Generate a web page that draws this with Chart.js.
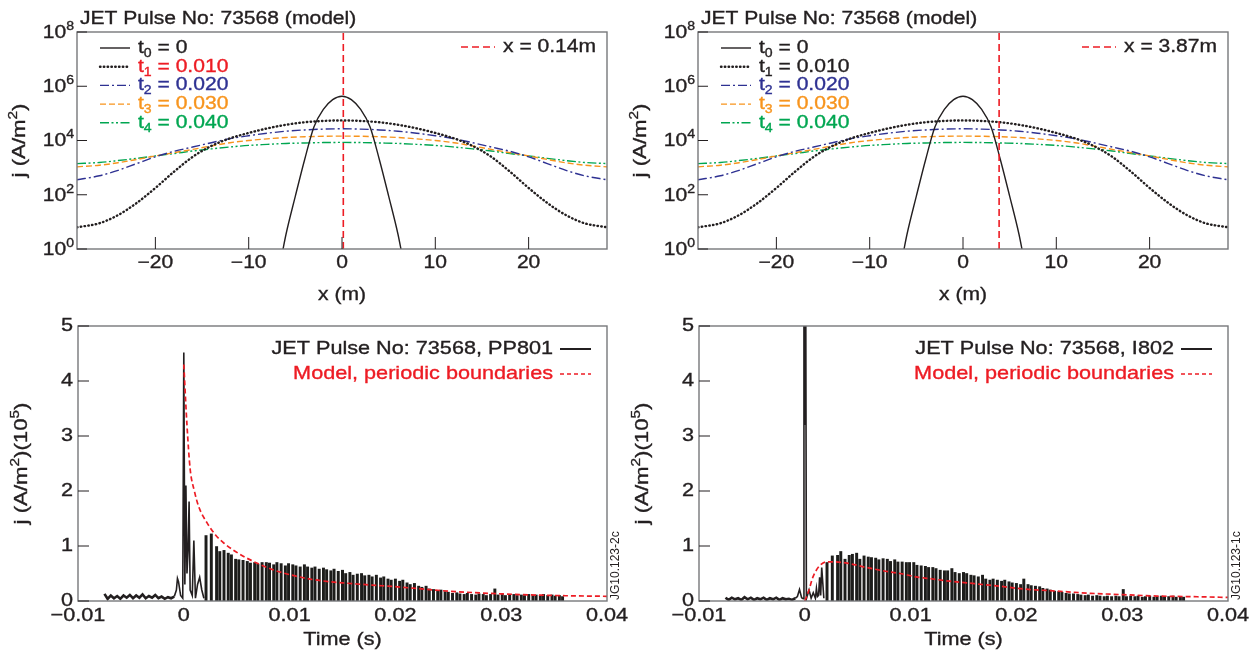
<!DOCTYPE html>
<html>
<head>
<meta charset="utf-8">
<script src="https://cdn.jsdelivr.net/npm/chart.js@4.4.1/dist/chart.umd.min.js"></script>
<style>
html, body { margin: 0; padding: 0; background: #fff; }
#page { position: relative; width: 1260px; height: 660px; overflow: hidden; background: #fff; }
canvas { position: absolute; }
</style>
</head>
<body>
<div id="page">
  <canvas id="profLeft" width="630" height="310" style="left:0;top:0"></canvas>
  <canvas id="profRight" width="639" height="310" style="left:621px;top:0"></canvas>
  <canvas id="probeLeft" width="630" height="360" style="left:0;top:300px"></canvas>
  <canvas id="probeRight" width="639" height="360" style="left:621px;top:300px"></canvas>
</div>
<script>
// ---- top panels: modelled j(x) profiles at successive times ----
const profileX = [-28.4, -26, -24, -22, -20, -18, -16, -14, -12, -10, -8, -6, -4, -2, 0,
                  2, 4, 6, 8, 10, 12, 14, 16, 18, 20, 22, 24, 26, 28.4];
const coreX = [-6.4, -6, -5, -4, -3, -2, -1, 0, 1, 2, 3, 4, 5, 6, 6.4];

const jT0 = [0.71, 3.5, 89, 2.0e3, 3.2e4, 1.4e5, 3.2e5, 4.3e5, 3.2e5, 1.4e5, 3.2e4, 2.0e3, 89, 3.5, 0.71];
const jT1 = [6.3, 8.9, 17.8, 50, 178, 710, 2500, 6300, 1.2e4, 1.9e4, 2.8e4, 3.8e4, 4.7e4, 5.25e4, 5.5e4,
             5.25e4, 4.7e4, 3.8e4, 2.8e4, 1.9e4, 1.2e4, 6300, 2500, 710, 178, 50, 17.8, 8.9, 6.3];
const jT2 = [355, 501, 794, 1410, 2500, 4000, 5750, 8300, 1.17e4, 1.5e4, 1.86e4, 2.2e4, 2.45e4, 2.63e4, 2.7e4,
             2.63e4, 2.45e4, 2.2e4, 1.86e4, 1.5e4, 1.17e4, 8300, 5750, 4000, 2500, 1410, 794, 501, 355];
const jT3 = [1070, 1230, 1510, 2000, 2700, 3550, 4700, 6300, 8300, 1.0e4, 1.15e4, 1.29e4, 1.38e4, 1.43e4, 1.45e4,
             1.43e4, 1.38e4, 1.29e4, 1.15e4, 1.0e4, 8300, 6300, 4700, 3550, 2700, 2000, 1510, 1230, 1070];
const jT4 = [1410, 1550, 1820, 2190, 2700, 3300, 4100, 4900, 5750, 6600, 7200, 7800, 8100, 8400, 8500,
             8400, 8100, 7800, 7200, 6600, 5750, 4900, 4100, 3300, 2700, 2190, 1820, 1550, 1410];

const timeLabels = ['0', '0.010', '0.020', '0.030', '0.040'];
const probeLeftX = 0.14;
const probeRightX = 3.87;
const profileXTicks = [-20, -10, 0, 10, 20];
const logTicks = [1e0, 1e2, 1e4, 1e6, 1e8];

// ---- bottom panels: probe signal during the ELM, in 1e5 A/m^2 ----
const noiseT = [-0.0075, -0.0072, -0.0069, -0.0066, -0.0063, -0.0060, -0.0057, -0.0054, -0.0051, -0.0048, -0.0045, -0.0042,
                -0.0039, -0.0036, -0.0033, -0.0030, -0.0027, -0.0024, -0.0021, -0.0018, -0.0015, -0.0012, -0.0009];
const pp801Noise = [0.13, 0.04, 0.10, 0.05, 0.09, 0.04, 0.10, 0.06, 0.11, 0.05, 0.10, 0.06,
                    0.12, 0.05, 0.09, 0.06, 0.11, 0.05, 0.08, 0.04, 0.07, 0.05, 0.08];
const i802Noise = [0.06, 0.02, 0.06, 0.03, 0.05, 0.02, 0.07, 0.03, 0.06, 0.02, 0.05, 0.03,
                   0.06, 0.02, 0.05, 0.03, 0.06, 0.02, 0.05, 0.03, 0.04, 0.02, 0.05];

const pp801EarlyT = [-0.0009, -0.0007, -0.0006, -0.0005, -0.0003, -0.0001, 0, 0.0001, 0.0002, 0.0003, 0.0004, 0.0005, 0.0006,
                     0.0008, 0.00095, 0.0011, 0.0013, 0.0015, 0.0017, 0.0019];
const pp801Early = [0.08, 0.2, 0.41, 0.35, 0.1, 0.05, 4.52, 0.3, 2.1, 0.5, 0.9, 1.81, 0.2,
                    0.1, 1.1, 0.05, 0.3, 0.43, 0.2, 0.05];
const i802EarlyT = [-0.0009, -0.0007, -0.0005, -0.0003, -0.00015, -0.00008, 0, 0.00008, 0.00015, 0.0004, 0.0006, 0.0008,
                    0.0010, 0.0011, 0.0012, 0.0013, 0.0014, 0.0015, 0.0016, 0.0018];
const i802Early = [0.05, 0.08, 0.21, 0.06, 0.04, 6.5, 3.2, 6.5, 0.04, 0.2, 0.05, 0.15,
                   0.05, 0.23, 0.08, 0.1, 0.43, 0.1, 0.61, 0.05];

// filament (ELM) arrival times and peak heights at each probe
const elmT = [0.0021, 0.0026, 0.0031, 0.0034, 0.0038, 0.0042, 0.0045, 0.0049, 0.0052, 0.0056,
              0.0060, 0.0063, 0.0067, 0.0070, 0.0074, 0.0078, 0.0081, 0.0085, 0.0088, 0.0092,
              0.0096, 0.0099, 0.0103, 0.0106, 0.0110, 0.0114, 0.0117, 0.0121, 0.0124, 0.0128,
              0.0132, 0.0135, 0.0139, 0.0142, 0.0146, 0.0150, 0.0153, 0.0157, 0.0160, 0.0164,
              0.0168, 0.0171, 0.0175, 0.0178, 0.0182, 0.0186, 0.0189, 0.0193, 0.0196, 0.0200,
              0.0204, 0.0207, 0.0211, 0.0214, 0.0218, 0.0222, 0.0225, 0.0229, 0.0232, 0.0236,
              0.0240, 0.0243, 0.0247, 0.0250, 0.0254, 0.0258, 0.0261, 0.0265, 0.0268, 0.0272,
              0.0276, 0.0279, 0.0283, 0.0286, 0.0290, 0.0294, 0.0297, 0.0301, 0.0304, 0.0308,
              0.0312, 0.0315, 0.0319, 0.0322, 0.0326, 0.0330, 0.0333, 0.0337, 0.0340, 0.0344,
              0.0348, 0.0351, 0.0355, 0.0358];
const pp801Peaks = [1.19, 1.22, 0.99, 0.90, 0.92, 0.87, 0.84, 0.76, 0.75, 0.74,
                    0.72, 0.69, 0.70, 0.67, 0.70, 0.70, 0.69, 0.66, 0.70, 0.68,
                    0.64, 0.68, 0.66, 0.64, 0.62, 0.66, 0.62, 0.60, 0.62, 0.58,
                    0.60, 0.57, 0.55, 0.58, 0.54, 0.56, 0.50, 0.52, 0.47, 0.49,
                    0.50, 0.46, 0.47, 0.44, 0.47, 0.42, 0.44, 0.40, 0.38, 0.40,
                    0.36, 0.38, 0.33, 0.30, 0.32, 0.27, 0.25, 0.27, 0.22, 0.21,
                    0.19, 0.20, 0.17, 0.16, 0.14, 0.15, 0.13, 0.12, 0.14, 0.12,
                    0.11, 0.13, 0.12, 0.10, 0.12, 0.22, 0.11, 0.12, 0.10, 0.11,
                    0.12, 0.10, 0.11, 0.10, 0.12, 0.10, 0.11, 0.10, 0.12, 0.10,
                    0.11, 0.09, 0.10, 0.08];
const i802Peaks = [0.70, 0.82, 0.83, 0.90, 0.76, 0.83, 0.85, 0.87, 0.76, 0.82,
                   0.80, 0.79, 0.78, 0.75, 0.77, 0.76, 0.72, 0.75, 0.71, 0.71,
                   0.70, 0.70, 0.70, 0.65, 0.64, 0.63, 0.61, 0.61, 0.59, 0.56,
                   0.55, 0.55, 0.59, 0.52, 0.50, 0.52, 0.50, 0.47, 0.46, 0.44,
                   0.47, 0.40, 0.38, 0.40, 0.38, 0.36, 0.38, 0.35, 0.33, 0.32,
                   0.30, 0.40, 0.30, 0.28, 0.27, 0.26, 0.23, 0.22, 0.20, 0.18,
                   0.17, 0.16, 0.14, 0.13, 0.13, 0.12, 0.11, 0.10, 0.11, 0.09,
                   0.10, 0.09, 0.08, 0.09, 0.08, 0.09, 0.08, 0.21, 0.08, 0.09,
                   0.08, 0.09, 0.07, 0.08, 0.09, 0.07, 0.08, 0.09, 0.07, 0.08,
                   0.09, 0.07, 0.08, 0.07];

// model, periodic boundaries
const pp801ModelT = [0, 0.0003, 0.0006, 0.0010, 0.0014, 0.0022, 0.0030, 0.0038, 0.0053, 0.0070,
                     0.0084, 0.0100, 0.0122, 0.0150, 0.0178, 0.0200, 0.0250, 0.0300, 0.0350, 0.0400];
const pp801Model = [4.3, 3.2, 2.4, 2.0, 1.72, 1.42, 1.2, 1.05, 0.85, 0.68,
                    0.57, 0.48, 0.39, 0.33, 0.29, 0.26, 0.18, 0.13, 0.10, 0.085];
const i802ModelT = [0, 0.0004, 0.0007, 0.0010, 0.0014, 0.0020, 0.0029, 0.0042, 0.0058, 0.0074, 0.0090, 0.0105,
                    0.0121, 0.0137, 0.0153, 0.0168, 0.0184, 0.0206, 0.0238, 0.0270, 0.0301, 0.0333, 0.0364, 0.0400];
const i802Model = [0.0, 0.2, 0.4, 0.53, 0.64, 0.71, 0.71, 0.68, 0.61, 0.55, 0.50, 0.44,
                   0.40, 0.36, 0.33, 0.30, 0.27, 0.22, 0.18, 0.14, 0.115, 0.09, 0.08, 0.065];

const timeTicks = [-0.01, 0, 0.01, 0.02, 0.03, 0.04];
const timeTickLabels = ['\u22120.01', '0', '0.01', '0.02', '0.03', '0.04'];
const linTicks = [0, 1, 2, 3, 4, 5];

const FONT = '"Liberation Sans", Arial, Helvetica, sans-serif';
const STRETCH = 1.17;   // the original lettering is a little wider than Helvetica
const INK = '#231f20';
const RED = '#ed1c24';
const BLUE = '#2e3192';
const ORANGE = '#f7941d';
const GREEN = '#00a651';
const FRAME = '#77787b';

const profileStyles = [
    { color: INK, width: 1.4, dash: [], cap: 'butt' },
    { color: INK, width: 2.4, dash: [0.5, 3.3], cap: 'round' },
    { color: BLUE, width: 1.4, dash: [9, 3, 2, 3], cap: 'butt' },
    { color: ORANGE, width: 1.4, dash: [6, 3], cap: 'butt' },
    { color: GREEN, width: 1.4, dash: [9, 2.5, 2, 2.5, 2, 2.5], cap: 'butt' }
];

// text with super/subscripts: parts = [[text, 0|1|-1]]
function drawRich(ctx, parts, x, y, align, size, color) {
    const small = Math.round(size * 0.66);
    const widths = parts.map(([t, s]) => {
        ctx.font = (s ? small : size) + 'px ' + FONT;
        return ctx.measureText(t).width * STRETCH;
    });
    const w = widths.reduce((a, b) => a + b, 0);
    let cx = align === 'right' ? x - w : align === 'center' ? x - w / 2 : x;
    ctx.save();
    ctx.fillStyle = color || INK;
    ctx.strokeStyle = color || INK;
    ctx.lineWidth = 0.35;
    ctx.textAlign = 'left';
    ctx.textBaseline = 'middle';
    parts.forEach(([t, s], i) => {
        ctx.font = (s ? small : size) + 'px ' + FONT;
        const dy = s === 1 ? -size * 0.36 : s === -1 ? size * 0.32 : 0;
        ctx.save();
        ctx.translate(cx, y + dy);
        ctx.scale(STRETCH, 1);
        ctx.fillText(t, 0, 0);
        ctx.strokeText(t, 0, 0);
        ctx.restore();
        cx += widths[i];
    });
    ctx.restore();
    return w;
}

function drawRotated(ctx, parts, x, y, size) {
    ctx.save();
    ctx.translate(x, y);
    ctx.rotate(-Math.PI / 2);
    drawRich(ctx, parts, 0, 0, 'center', size);
    ctx.restore();
}

function seg(ctx, x1, y1, x2, y2) {
    ctx.beginPath();
    ctx.moveTo(x1, y1);
    ctx.lineTo(x2, y2);
    ctx.stroke();
}

function sample(ctx, x1, x2, y, st) {
    ctx.save();
    ctx.strokeStyle = st.color;
    ctx.lineWidth = st.width;
    ctx.setLineDash(st.dash);
    ctx.lineCap = st.cap || 'butt';
    seg(ctx, x1, y, x2, y);
    ctx.restore();
}

function drawFrame(ctx, a) {
    ctx.save();
    ctx.strokeStyle = FRAME;
    ctx.lineWidth = 1.4;
    ctx.strokeRect(a.left, a.top, a.right - a.left, a.bottom - a.top);
    ctx.restore();
}

function profileChart(id, probeX, t1Color, padRight) {
    const series = [jT0, jT1, jT2, jT3, jT4];
    const datasets = [{
        data: [{ x: probeX, y: 1 }, { x: probeX, y: 1e8 }],
        borderColor: RED, borderWidth: 1.6, borderDash: [7, 4], pointRadius: 0
    }];
    series.forEach((vals, i) => {
        const xs = i === 0 ? coreX : profileX;
        const st = profileStyles[i];
        datasets.push({
            data: xs.map((x, k) => ({ x, y: vals[k] })),
            borderColor: st.color, borderWidth: st.width, borderDash: st.dash,
            borderCapStyle: st.cap, pointRadius: 0, cubicInterpolationMode: 'monotone'
        });
    });
    const textColors = [INK, t1Color, BLUE, ORANGE, GREEN];

    new Chart(document.getElementById(id), {
        type: 'line',
        data: { datasets },
        options: {
            responsive: false,
            animation: false,
            events: [],
            layout: { padding: { left: 77, right: padRight, top: 32, bottom: 61 } },
            scales: {
                x: { type: 'linear', min: -28.4, max: 28.4, display: false },
                y: { type: 'logarithmic', min: 1, max: 1e8, display: false }
            },
            plugins: { legend: { display: false }, tooltip: { enabled: false } }
        },
        plugins: [{
            id: 'profileDecor',
            afterDraw(chart) {
                const { ctx, chartArea: a, scales: { x, y } } = chart;
                drawFrame(ctx, a);
                ctx.save();
                ctx.strokeStyle = INK;
                ctx.lineWidth = 1;
                profileXTicks.forEach(v => {
                    const px = x.getPixelForValue(v);
                    seg(ctx, px, a.bottom, px, a.bottom - 12);
                    drawRich(ctx, [[v < 0 ? '\u2212' + (-v) : String(v), 0]], px, a.bottom + 14, 'center', 18);
                });
                logTicks.forEach(v => {
                    const py = y.getPixelForValue(v);
                    seg(ctx, a.left, py, a.left + 10, py);
                    drawRich(ctx, [['10', 0], [String(Math.round(Math.log10(v))), 1]], a.left - 3, py + 1, 'right', 18);
                });
                ctx.restore();

                drawRich(ctx, [['JET Pulse No: 73568 (model)', 0]], a.left + 3, 19, 'left', 18);
                drawRich(ctx, [['x (m)', 0]], (a.left + a.right) / 2, a.bottom + 46, 'center', 18);
                drawRotated(ctx, [['j (A/m', 0], ['2', 1], [')', 0]], 20, (a.top + a.bottom) / 2, 19);

                // time legend
                timeLabels.forEach((lab, i) => {
                    const ly = a.top + 16 + i * 18.7;
                    sample(ctx, a.left + 23, a.left + 53, ly, profileStyles[i]);
                    drawRich(ctx, [['t', 0], [String(i), -1], [' = ' + lab, 0]], a.left + 61, ly, 'left', 18, textColors[i]);
                });
                // probe position legend
                const py = a.top + 15;
                sample(ctx, a.right - 146, a.right - 112, py, { color: RED, width: 1.6, dash: [7, 4] });
                drawRich(ctx, [['x = ' + probeX + 'm', 0]], a.right - 104, py, 'left', 18);
            }
        }]
    });
}

function probeChart(id, noise, earlyT, early, peaks, modelT, model, probeName, figTag, padRight) {
    new Chart(document.getElementById(id), {
        type: 'line',
        data: {
            datasets: [
                {
                    data: modelT.map((t, i) => ({ x: t, y: model[i] })),
                    borderColor: RED, borderWidth: 1.7, borderDash: [5, 3], pointRadius: 0,
                    cubicInterpolationMode: 'monotone'
                },
                {
                    data: earlyT.map((t, i) => ({ x: t, y: early[i] })),
                    borderColor: INK, borderWidth: 1.6, pointRadius: 0, tension: 0, clip: 0
                },
                {
                    data: noiseT.map((t, i) => ({ x: t, y: noise[i] })),
                    borderColor: INK, borderWidth: 2.6, pointRadius: 0, tension: 0
                },
                {
                    type: 'bar',
                    data: elmT.map((t, i) => ({ x: t, y: peaks[i] })),
                    backgroundColor: '#1d1d1b', borderWidth: 0, barThickness: 2.3
                }
            ]
        },
        options: {
            responsive: false,
            animation: false,
            events: [],
            layout: { padding: { left: 78, right: padRight, top: 26, bottom: 59 } },
            scales: {
                x: { type: 'linear', min: -0.01, max: 0.04, display: false, offset: false },
                y: { type: 'linear', min: 0, max: 5, display: false }
            },
            plugins: { legend: { display: false }, tooltip: { enabled: false } }
        },
        plugins: [{
            id: 'probeDecor',
            afterDraw(chart) {
                const { ctx, chartArea: a, scales: { x, y } } = chart;
                drawFrame(ctx, a);
                ctx.save();
                ctx.strokeStyle = INK;
                ctx.lineWidth = 1;
                timeTicks.forEach((v, i) => {
                    drawRich(ctx, [[timeTickLabels[i], 0]], x.getPixelForValue(v), a.bottom + 15, 'center', 18.5);
                });
                linTicks.forEach(v => {
                    const py = y.getPixelForValue(v);
                    seg(ctx, a.left, py, a.left + 11, py);
                    drawRich(ctx, [[String(v), 0]], a.left - 5, py, 'right', 18.5);
                });
                ctx.restore();

                drawRich(ctx, [['Time (s)', 0]], (a.left + a.right) / 2, a.bottom + 39, 'center', 18.5);
                drawRotated(ctx, [['j (A/m', 0], ['2', 1], [')(10', 0], ['5', 1], [')', 0]], 22, (a.top + a.bottom) / 2, 19);

                const r = a.right - 54;
                drawRich(ctx, [['JET Pulse No: 73568, ' + probeName, 0]], r, a.top + 23, 'right', 18.5);
                sample(ctx, r + 7, r + 38, a.top + 23, { color: INK, width: 2, dash: [] });
                drawRich(ctx, [['Model, periodic boundaries', 0]], r, a.top + 48, 'right', 18.5, RED);
                sample(ctx, r + 7, r + 38, a.top + 48, { color: RED, width: 1.5, dash: [4, 3] });

                // figure tag along the right edge
                ctx.save();
                ctx.translate(a.right + 9, a.bottom - 1);
                ctx.rotate(-Math.PI / 2);
                ctx.font = '12px ' + FONT;
                ctx.fillStyle = INK;
                ctx.textAlign = 'left';
                ctx.textBaseline = 'middle';
                ctx.fillText(figTag, 0, 0);
                ctx.restore();
            }
        }]
    });
}

profileChart('profLeft', probeLeftX, RED, 23);
profileChart('profRight', probeRightX, INK, 32);
probeChart('probeLeft', pp801Noise, pp801EarlyT, pp801Early, pp801Peaks, pp801ModelT, pp801Model, 'PP801', 'JG10.123-2c', 23);
probeChart('probeRight', i802Noise, i802EarlyT, i802Early, i802Peaks, i802ModelT, i802Model, 'I802', 'JG10.123-1c', 32);
</script>
</body>
</html>
